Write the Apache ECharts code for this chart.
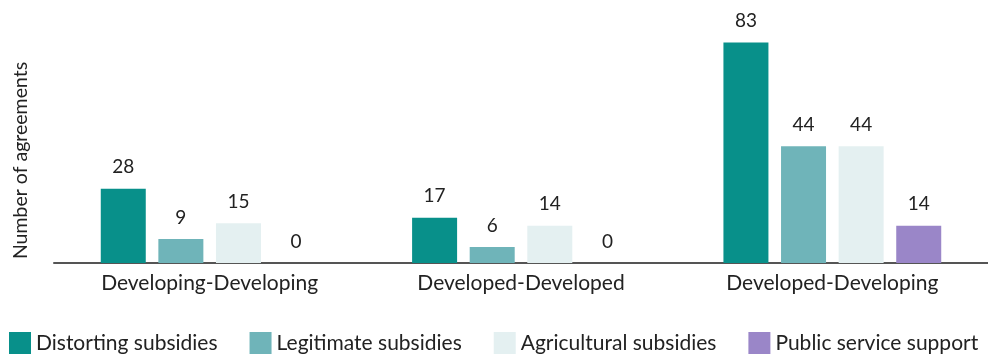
<!DOCTYPE html>
<html><head><meta charset="utf-8">
<script src="https://cdn.jsdelivr.net/npm/echarts@6/dist/echarts.min.js"></script>
<style>html,body{margin:0;padding:0;background:#fff}#c{width:988px;height:354px}</style>
</head><body><div id="c"></div>
<script>
const categories = ['Developing-Developing', 'Developed-Developed', 'Developed-Developing'];
const seriesNames = ['Distorting subsidies', 'Legitimate subsidies', 'Agricultural subsidies', 'Public service support'];
const distorting = [28, 17, 83];
const legitimate = [9, 6, 44];
const agricultural = [15, 14, 44];
const publicService = [0, 0, 14];
const colors = ['#08908a', '#6fb4b9', '#e4f0f1', '#9a86c8'];
const FONT = 'Lato';

const values = [distorting, legitimate, agricultural, publicService];
const chart = echarts.init(document.getElementById('c'));
chart.setOption({
  animation: false,
  textStyle: { fontFamily: FONT },
  grid: { left: 54, right: 0, top: 24, bottom: 91, outerBoundsMode: 'none', containLabel: false },
  legend: {
    left: 9, top: 332, width: 1000, padding: 0,
    itemWidth: 22, itemHeight: 22, itemGap: 32,
    icon: 'rect',
    textStyle: { fontSize: 21, color: '#222', fontFamily: FONT },
    data: seriesNames
  },
  xAxis: {
    type: 'category', data: categories,
    axisLine: { lineStyle: { color: '#555', width: 2 } },
    axisTick: { show: false },
    axisLabel: { fontSize: 21, color: '#222', margin: 10, fontFamily: FONT }
  },
  yAxis: {
    type: 'value', min: 0, max: 90,
    axisLine: { show: false }, axisTick: { show: false },
    axisLabel: { show: false }, splitLine: { show: false },
    name: 'Number of agreements', nameLocation: 'middle', nameGap: 23,
    nameTextStyle: { fontSize: 19.5, color: '#222', fontFamily: FONT, padding: [0, 34, 0, 0] }
  },
  series: values.map((v, i) => ({
    name: seriesNames[i], type: 'bar', data: v,
    barWidth: 45, barGap: '28%',
    itemStyle: { color: colors[i] },
    label: { show: true, position: 'top', distance: 12, fontSize: 19, color: '#222', fontFamily: FONT }
  }))
});
</script></body></html>
